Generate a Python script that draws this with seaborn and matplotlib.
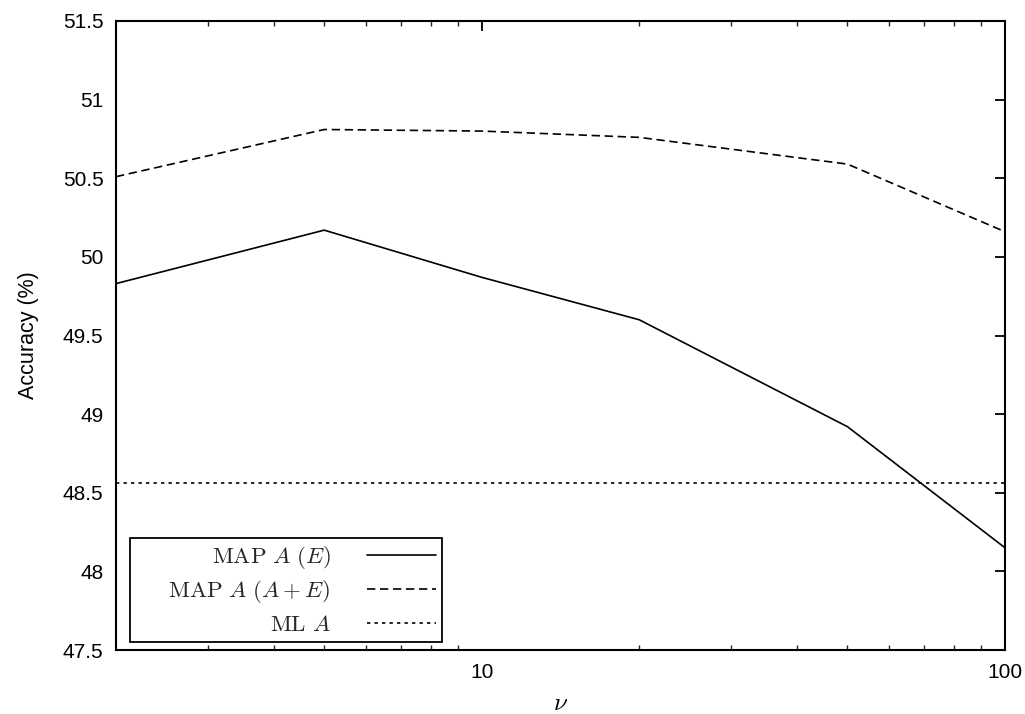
import matplotlib
matplotlib.use("Agg")
import matplotlib.pyplot as plt
import seaborn as sns
import pandas as pd
from matplotlib.ticker import FixedLocator, NullFormatter

nu = [2, 5, 10, 20, 50, 100]
map_e = [49.83, 50.17, 49.87, 49.60, 48.92, 48.15]
map_ae = [50.51, 50.81, 50.80, 50.76, 50.59, 50.16]
ml_a = [48.56, 48.56, 48.56, 48.56, 48.56, 48.56]
labels = [r"$\mathrm{MAP}\ A\ (E)$", r"$\hspace{1.6}\mathrm{MAP}\ A\ (A+E)$", r"$\mathrm{ML}\ A$"]
yticks = [47.5, 48, 48.5, 49, 49.5, 50, 50.5, 51, 51.5]
ytick_labels = ["47.5", "48", "48.5", "49", "49.5", "50", "50.5", "51", "51.5"]
xticks = [10, 100]
xtick_labels = ["10", "100"]

sns.set_theme(style="white")
plt.rcParams["font.family"] = ["Liberation Sans", "DejaVu Sans"]
plt.rcParams["mathtext.fontset"] = "cm"

fig = plt.figure(figsize=(10.25, 7.14), dpi=100)
ax = fig.add_axes([116/1025, 64/714, (1005-116)/1025, (650-21)/714])

df = pd.DataFrame({"nu": nu, "e": map_e, "ae": map_ae, "ml": ml_a})
sns.lineplot(data=df, x="nu", y="e", ax=ax, color="black", lw=1.2, label=labels[0])
sns.lineplot(data=df, x="nu", y="ae", ax=ax, color="black", lw=1.2, label=labels[1])
sns.lineplot(data=df, x="nu", y="ml", ax=ax, color="black", lw=1.2, label=labels[2])
lines = ax.get_lines()
lines[1].set_dashes([5, 2.8])
lines[2].set_dashes([2, 2.5])

ax.set_xscale("log")
ax.set_xlim(2, 100)
ax.set_ylim(47.5, 51.5)
ax.xaxis.set_major_locator(FixedLocator(xticks))
ax.set_xticklabels(xtick_labels)
ax.xaxis.set_minor_locator(FixedLocator([3, 4, 5, 6, 7, 8, 9, 20, 30, 40, 50, 60, 70, 80, 90]))
ax.xaxis.set_minor_formatter(NullFormatter())
ax.set_yticks(yticks)
ax.set_yticklabels(ytick_labels)

ax.tick_params(axis="both", which="major", direction="in", length=7, width=1.3,
               top=True, right=True, labelsize=15, colors="black", pad=9)
ax.tick_params(axis="x", which="minor", direction="in", length=3.5, width=1.0,
               top=True, bottom=True)
for s in ax.spines.values():
    s.set_color("black")
    s.set_linewidth(1.5)

ax.set_ylabel("Accuracy (%)", fontsize=15.5, labelpad=17, color="black")
ax.set_xlabel(r"$\nu$", fontsize=18, labelpad=7, color="black")

leg = ax.legend(loc="lower left", bbox_to_anchor=(0.0157, 0.0127), borderaxespad=0,
                markerfirst=False, fontsize=16.5, handlelength=3.0, handletextpad=1.6,
                labelspacing=0.32, borderpad=0.28, fancybox=False, framealpha=1,
                edgecolor="black")
leg.get_frame().set_linewidth(1.3)

fig.savefig("out.png", dpi=100)
